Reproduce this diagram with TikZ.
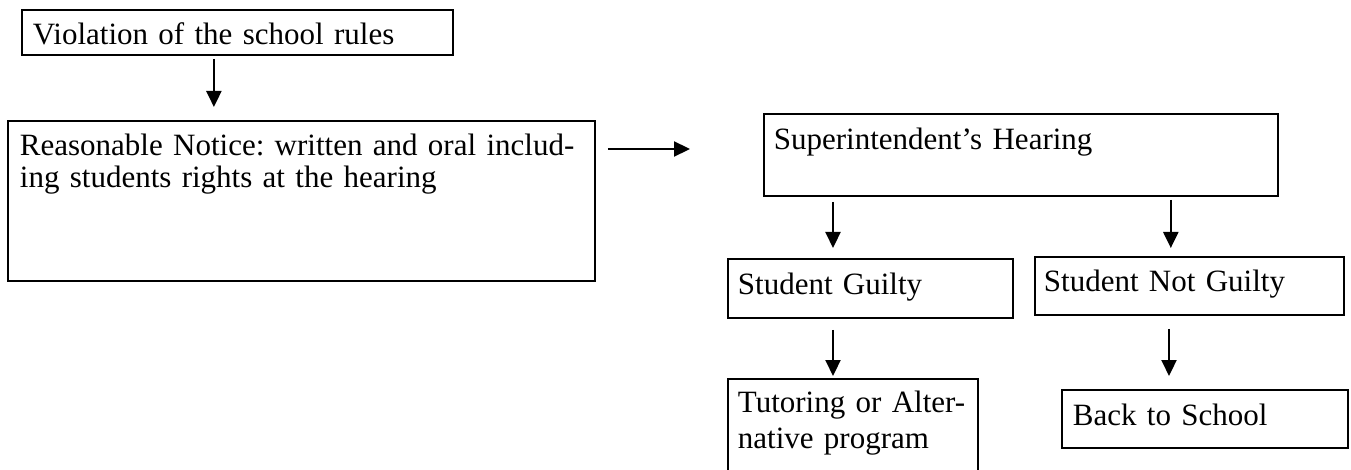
\documentclass[tikz,border=0pt]{standalone}
\usepackage{fontspec}
\setmainfont{Liberation Serif}
\usetikzlibrary{arrows.meta}
\frenchspacing
\begin{document}
\begin{tikzpicture}[x=1pt,y=-1pt,
  box/.style={draw, line width=1.8pt, anchor=north west, inner ysep=0pt, align=left,
    font=\fontsize{31}{32}\selectfont},
  arr/.style={line width=2.2pt, -{Triangle[length=16pt,width=15pt]}}]
\fill[white] (0,0) rectangle (1351,470);
\useasboundingbox (0,0) rectangle (1351,470);
% boxes
\node[box, inner xsep=11pt, text width=409pt, text height=34.5pt, text depth=10.5pt]
  (b1) at (21,9) {\mbox{Violation of the school rules}};
\node[box, inner xsep=12pt, text width=563pt, text height=35pt, text depth=125pt]
  (b2) at (7,120) {\mbox{Reasonable Notice: written and oral includ-}\\\mbox{ing students rights at the hearing}};
\node[box, inner xsep=10pt, text width=494pt, text height=35.5pt, text depth=46.5pt]
  (b3) at (763,113) {\mbox{Superintendent's Hearing}};
\node[box, inner xsep=10pt, text width=265pt, text height=35.5pt, text depth=23.5pt]
  (b4) at (727,258) {\mbox{Student Guilty}};
\node[box, inner xsep=9pt, text width=291pt, text height=34.5pt, text depth=23.5pt]
  (b5) at (1034,256) {\mbox{Student Not Guilty}};
\node[box, font=\fontsize{31}{36}\selectfont, inner xsep=10pt, text width=230pt, text height=34pt, text depth=63pt]
  (b6) at (727,378) {\mbox{Tutoring or Alter-}\\\mbox{native program}};
\node[box, inner xsep=11pt, text width=264pt, text height=36pt, text depth=22pt]
  (b7) at (1061,389) {\mbox{Back to School}};
% connectors
\draw[arr, shorten <=3pt, shorten >=13pt]
  ([xshift=-23.5pt]b1.south) -- ([xshift=-23.5pt]b1.south |- b2.north);
\draw[arr, shorten <=12pt, shorten >=73pt]
  ([yshift=-29pt]b2.north east) -- ([yshift=-29pt]b2.north east -| b3.west);
\draw[arr, shorten <=5pt, shorten >=10pt]
  ([xshift=70pt]b3.south west) -- ([xshift=70pt]b3.south west |- b4.north);
\draw[arr, shorten <=3pt, shorten >=8pt]
  ([xshift=-108pt]b3.south east) -- ([xshift=-108pt]b3.south east |- b5.north);
\draw[arr, shorten <=11pt, shorten >=2pt]
  ([xshift=106pt]b4.south west) -- ([xshift=106pt]b4.south west |- b6.north);
\draw[arr, shorten <=13pt, shorten >=13pt]
  ([xshift=135pt]b5.south west) -- ([xshift=135pt]b5.south west |- b7.north);
\end{tikzpicture}
\end{document}
